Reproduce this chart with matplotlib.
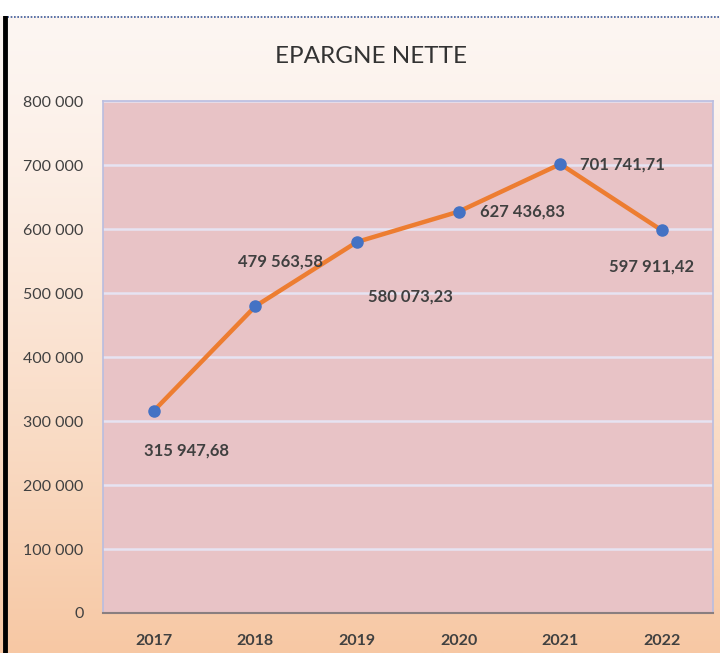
import numpy as np
import matplotlib
matplotlib.use('Agg')
import matplotlib.pyplot as plt
from matplotlib.ticker import FuncFormatter

# data
years = ['2017', '2018', '2019', '2020', '2021', '2022']
epargne = [315947.68, 479563.58, 580073.23, 627436.83, 701741.71, 597911.42]
value_labels = ['315 947,68', '479 563,58', '580 073,23', '627 436,83', '701 741,71', '597 911,42']

# label placement (pixel offsets from the point), Excel style
label_offsets = [(33, -40), (25, 45), (53, -55), (21, 0), (20, 0), (-10, -36)]
label_ha = ['center', 'center', 'center', 'left', 'left', 'center']

plt.rcParams['font.family'] = ['Lato', 'DejaVu Sans']

fig = plt.figure(figsize=(7.2, 6.53), dpi=100)
fig.patch.set_facecolor('white')

# background of the chart frame: light at the top, peach at the bottom
bg = fig.add_axes([0.0, 0.0, 1.0, 0.975], zorder=-10)
grad = np.linspace(0, 1, 256).reshape(-1, 1)
top_col = np.array([253, 246, 242]) / 255
bot_col = np.array([247, 200, 164]) / 255
img = top_col + (bot_col - top_col) * grad ** 1.3
bg.imshow(img.reshape(256, 1, 3), aspect='auto', extent=[0, 1, 0, 1])
bg.set_xlim(0, 1)
bg.set_ylim(0, 1)
bg.axis('off')
# frame decorations (selection border)
bg.plot([0.005, 1], [0.999, 0.999], color='#3a5a9a', lw=1.2, ls=(0, (1, 1)))
bg.plot([0.007, 0.007], [0, 1], color='black', lw=3.5)

ax = fig.add_axes([0.143, 0.0613, 0.847, 0.7837])
ax.set_facecolor('#e8c3c6')

x = np.arange(len(years))
ax.plot(x, epargne, color='#ed7d31', lw=3.2, zorder=3)
ax.plot(x, epargne, 'o', color='#4472c4', ms=8, zorder=4)

for i in range(len(years)):
    ax.annotate(value_labels[i], (x[i], epargne[i]), xytext=label_offsets[i],
                textcoords='offset pixels', ha=label_ha[i], va='center',
                fontsize=12, fontweight='bold', color='#404040', zorder=5)

ax.set_xlim(-0.5, len(years) - 0.5)
ax.set_ylim(0, 800000)
ax.set_yticks(np.arange(0, 800001, 100000))
ax.yaxis.set_major_formatter(FuncFormatter(lambda v, p: f'{int(v):,}'.replace(',', ' ')))
ax.set_xticks(x)
ax.set_xticklabels(years, fontweight='bold')
ax.tick_params(axis='y', length=0, labelsize=11.5, colors='#404040', pad=14)
ax.tick_params(axis='x', length=0, labelsize=11.5, colors='#404040', pad=15)

ax.grid(axis='y', color='#e6e3f2', lw=1.8, zorder=1)
ax.set_axisbelow(True)
for side in ['top', 'left', 'right']:
    ax.spines[side].set_color('#b9bde0')
    ax.spines[side].set_linewidth(1.2)
ax.spines['bottom'].set_color('#8a7f80')
ax.spines['bottom'].set_linewidth(1.5)

fig.text(0.515, 0.913, 'EPARGNE NETTE', ha='center', va='center',
         fontsize=17.5, color='#333333')

fig.savefig('out.png', dpi=100)
